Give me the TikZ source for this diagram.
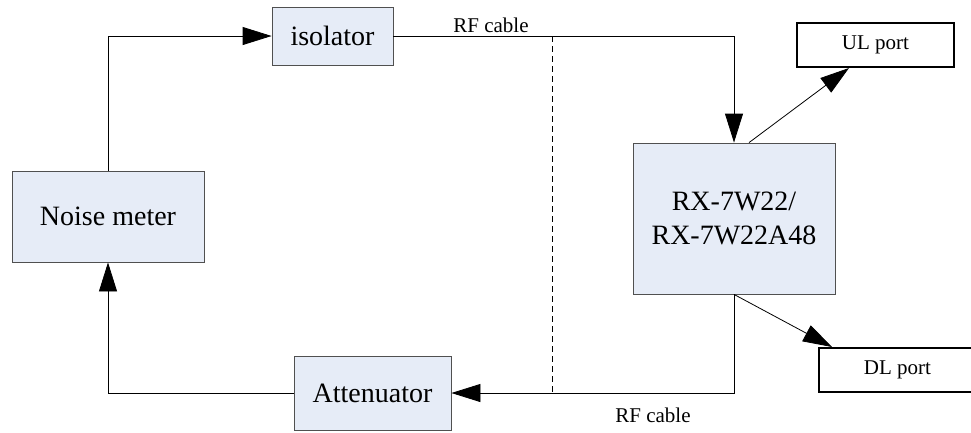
\documentclass[tikz,border=0pt]{standalone}
\usepackage{fontspec}
\setmainfont{Liberation Serif}
\usetikzlibrary{arrows.meta,calc}
\definecolor{boxfill}{RGB}{230,236,247}
\definecolor{boxline}{RGB}{80,80,80}
\tikzset{
  blk/.style  ={draw=boxline, rectangle, fill=boxfill, align=center, inner sep=0pt, font=\fontsize{28}{34}\selectfont},
  port/.style ={draw, rectangle, fill=white, line width=2pt, inner sep=0pt, minimum width=157pt, minimum height=44pt, font=\fontsize{21}{25}\selectfont},
  lbl/.style  ={inner sep=0pt, anchor=base, font=\fontsize{21}{25}\selectfont},
  arr/.style  ={-{Triangle[length=29pt,width=18pt]}},
}

\begin{document}
\begin{tikzpicture}[x=1pt,y=-1pt,line width=0.8pt]
  \useasboundingbox (0,0) rectangle (971,432);
  \node[blk, minimum width=192pt, minimum height=91pt] (nm) at (108,216.5) {Noise meter};
  \node[blk, minimum width=121pt, minimum height=58pt] (iso) at (332.5,36) {isolator};
  \node[blk, minimum width=157pt, minimum height=74pt] (att) at (372.5,393) {Attenuator};
  \node[blk, minimum width=202pt, minimum height=151pt] (rx) at (734,218.5) {RX-7W22/\\RX-7W22A48};
  \node[port] (ul) at (875.5,45) {UL port};
  \node[port] (dl) at (897.5,370) {DL port};

  % loop through the cables
  \draw[arr] (nm.north) |- (iso.west);
  \draw[arr] (iso.east) -| (rx.north);
  \draw[arr] (rx.south) |- (att.east);
  \draw[arr] (att.west) -| (nm.south);

  % output ports
  \draw[arr] ($(rx.north)+(15,0)$) -- ($(ul.south west)+(53,0)$);
  \draw[arr] (rx.south) -- ($(dl.north west)+(14,0)$);

  % cable split
  \coordinate (cuttop) at (552,36);
  \coordinate (cutbot) at (cuttop |- att.east);
  \draw[dash pattern=on 6pt off 4pt] (cuttop) -- (cutbot);

  \node[lbl] (rftop) at (491,32) {RF cable};
  \node[lbl] (rfbot) at (653,422) {RF cable};
\end{tikzpicture}
\end{document}
